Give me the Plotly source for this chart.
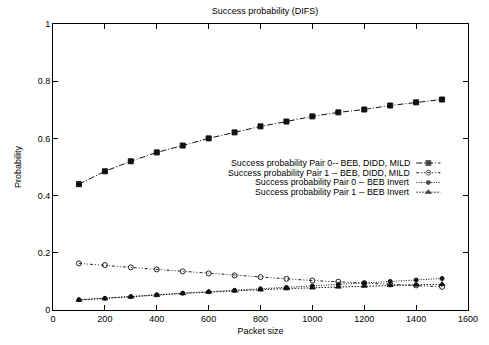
import plotly.graph_objects as go

# Packet sizes and success probabilities
packet_size = [100, 200, 300, 400, 500, 600, 700, 800, 900, 1000, 1100, 1200, 1300, 1400, 1500]
pair0_mild = [0.440, 0.485, 0.520, 0.551, 0.575, 0.600, 0.621, 0.642, 0.659, 0.677, 0.691, 0.701, 0.715, 0.726, 0.736]
pair1_mild = [0.163, 0.157, 0.149, 0.142, 0.135, 0.128, 0.121, 0.115, 0.109, 0.103, 0.099, 0.094, 0.090, 0.086, 0.081]
pair0_invert = [0.036, 0.041, 0.047, 0.053, 0.059, 0.064, 0.069, 0.074, 0.079, 0.084, 0.089, 0.094, 0.100, 0.105, 0.110]
pair1_invert = [0.035, 0.040, 0.046, 0.052, 0.058, 0.063, 0.067, 0.071, 0.075, 0.078, 0.081, 0.084, 0.086, 0.088, 0.090]

names = [
    "Success probability Pair 0-- BEB, DIDD, MILD",
    "Success probability Pair 1 -- BEB, DIDD, MILD",
    "Success probability Pair 0 -- BEB Invert",
    "Success probability Pair 1 -- BEB Invert",
]
series = [pair0_mild, pair1_mild, pair0_invert, pair1_invert]
dashes = ["6px,2px,1px,2px", "3px,2px,1px,2px,1px,2px", "1px,1.5px", "1.5px,1.5px"]
symbols = ["square", "circle-open", "circle", "triangle-up"]
sizes = [5, 5, 4, 5]
colors = ["#111111", "#222222", "#111111", "#111111"]

FONT = "Liberation Sans, Arial, sans-serif"

fig = go.Figure()
for ys, dash, sym, sz, col in zip(series, dashes, symbols, sizes, colors):
    fig.add_trace(go.Scatter(
        x=packet_size, y=ys, mode="lines+markers",
        line=dict(color=col, width=1, dash=dash),
        marker=dict(symbol=sym, size=sz, color=col, line=dict(color=col, width=1)),
        showlegend=False, hoverinfo="skip",
    ))

# Key: right-aligned labels with line/marker samples to their right
rows = list(range(len(names)))
for r, dash, sym, sz, col in zip(rows, dashes, symbols, sizes, colors):
    fig.add_trace(go.Scatter(
        x=[0, 0.5, 1], y=[r, r, r], xaxis="x2", yaxis="y2",
        mode="lines+markers",
        line=dict(color=col, width=1, dash=dash),
        marker=dict(symbol=sym, size=[0, sz, 0], color=col, line=dict(color=col, width=1)),
        showlegend=False, hoverinfo="skip",
    ))
for r, name in zip(rows, names):
    fig.add_annotation(
        text=name, x=0.8635, xref="paper", y=r, yref="y2",
        xanchor="right", yanchor="middle", showarrow=False,
        font=dict(family=FONT, size=8.8, color="#000000"),
        borderpad=0,
    )

axis_common = dict(
    showgrid=False, zeroline=False, showline=True, linecolor="#000000", linewidth=1,
    mirror="ticks", ticks="inside", ticklen=5, tickcolor="#000000", tickwidth=1,
    tickfont=dict(family=FONT, size=9, color="#000000"),
)

fig.update_layout(
    width=489, height=345,
    margin=dict(l=53, r=11, t=24, b=35),
    paper_bgcolor="white", plot_bgcolor="white",
    title=dict(text="Success probability (DIFS)", x=0.5418, xanchor="center",
               y=0.97, yanchor="middle",
               font=dict(family=FONT, size=9, color="#000000")),
    xaxis=dict(range=[0, 1600], dtick=200, tick0=0,
               title=dict(text="Packet size", standoff=4,
                          font=dict(family=FONT, size=9, color="#000000")),
               **axis_common),
    yaxis=dict(range=[0, 1], dtick=0.2, tick0=0,
               title=dict(text="Probability", standoff=14,
                          font=dict(family=FONT, size=9, color="#000000")),
               **axis_common),
    xaxis2=dict(domain=[0.875, 0.934], range=[0, 1], anchor="y2", visible=False),
    yaxis2=dict(domain=[0.395, 0.531], range=[3.5, -0.5], anchor="x2", visible=False),
)

fig.write_html("out.html")
